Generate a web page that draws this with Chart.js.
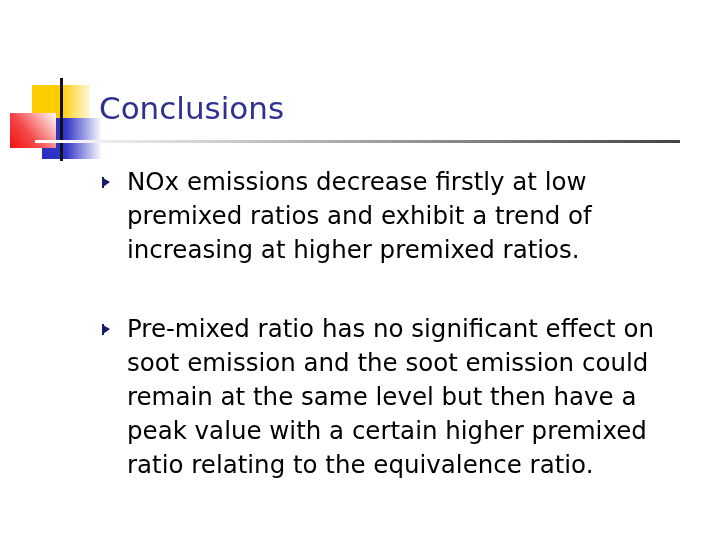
<!DOCTYPE html>
<html><head><style>html,body{margin:0;background:#fff}#c{width:720px;height:540px}</style>
<script src="https://cdn.jsdelivr.net/npm/chart.js"></script></head>
<body><div id="c"><canvas id="cv" width="720" height="540"></canvas></div>
<script>
const title = "Conclusions";
const bullet1 = ["NOx emissions decrease firstly at low","premixed ratios and exhibit a trend of","increasing at higher premixed ratios."];
const bullet2 = ["Pre-mixed ratio has no significant effect on","soot emission and the soot emission could","remain at the same level but then have a","peak value with a certain higher premixed","ratio relating to the equivalence ratio."];
const slide = {
  id:'slide',
  afterDraw(chart){
    const c = chart.ctx;
    c.save();
    let g = c.createLinearGradient(32,0,95,0); g.addColorStop(0,'#ffcc00'); g.addColorStop(0.45,'#ffcc00'); g.addColorStop(1,'#ffffff');
    c.fillStyle=g; c.fillRect(32,85,58,34);
    g = c.createLinearGradient(42,0,102,0); g.addColorStop(0,'#2b2fc0'); g.addColorStop(0.4,'#3336c8'); g.addColorStop(1,'#ffffff');
    c.fillStyle=g; c.fillRect(42,118,59,41);
    g = c.createLinearGradient(10,148,56,112); g.addColorStop(0,'#ee1111'); g.addColorStop(0.4,'#f44a4a'); g.addColorStop(1,'#ffffff');
    c.fillStyle=g; c.fillRect(10,113,46,35);
    c.fillStyle='#111'; c.fillRect(60,78,3,83);
    g = c.createLinearGradient(35,0,680,0); g.addColorStop(0,'#ffffff'); g.addColorStop(0.3,'#cccccc'); g.addColorStop(1,'#444444');
    c.fillStyle=g; c.fillRect(35,140,645,3);
    c.fillStyle='#2e3192'; c.font='31px "DejaVu Sans"'; c.textBaseline='alphabetic';
    c.fillText(title,99,119);
    c.font='24.5px "DejaVu Sans"'; c.fillStyle='#000';
    const draw=(lines,y0)=>{
      c.fillStyle='#1a1a6e';
      c.beginPath(); c.moveTo(103,y0-12); c.lineTo(110,y0-8); c.lineTo(103,y0-3); c.closePath(); c.fill();
      c.fillRect(102,y0-13,2,11);
      c.fillStyle='#000';
      lines.forEach((t,i)=>c.fillText(t,127,y0+i*34));
    };
    draw(bullet1,190); draw(bullet2,337);
    c.restore();
  }
};
new Chart(document.getElementById('cv'),{type:'bar',data:{labels:[],datasets:[]},
 options:{responsive:false,animation:false,events:[],plugins:{legend:{display:false},tooltip:{enabled:false}},
 scales:{x:{display:false},y:{display:false}}},plugins:[slide]});
</script></body></html>
